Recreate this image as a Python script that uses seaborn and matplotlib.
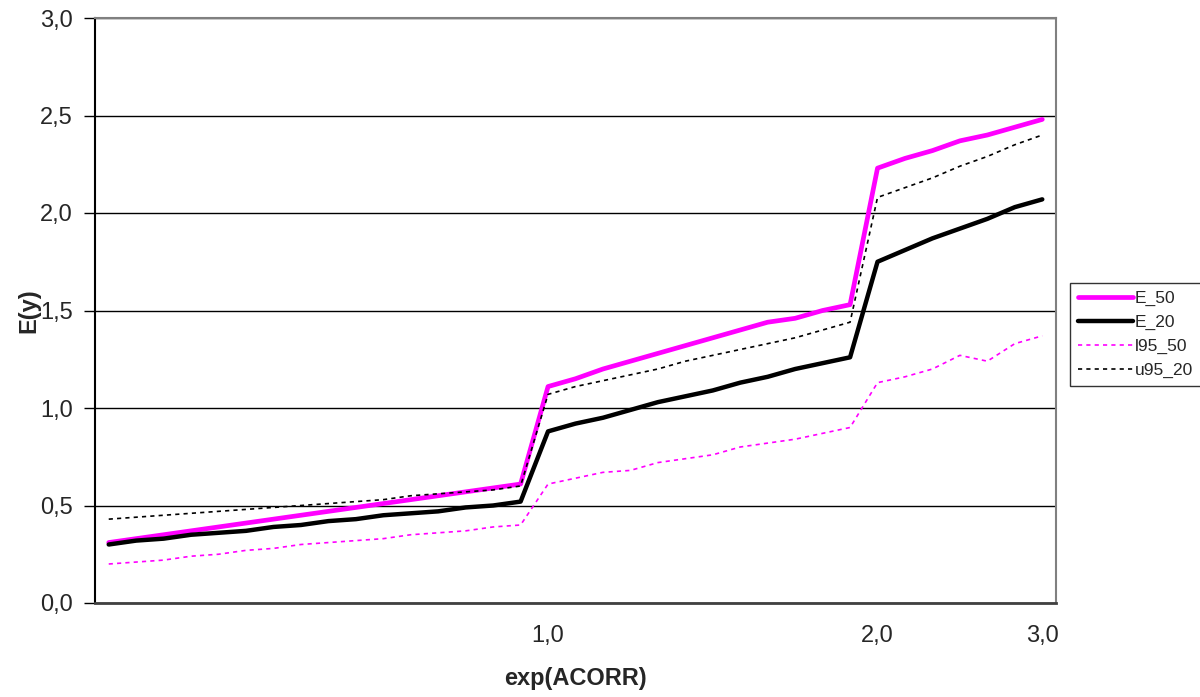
import matplotlib
matplotlib.use("Agg")
import matplotlib.pyplot as plt
import seaborn as sns
import pandas as pd

# category index along the x axis (35 points), only three carry a label
x_idx = list(range(35))
x_tick_pos = [16, 28, 34]
x_tick_labels = ["1,0", "2,0", "3,0"]

E_50 = [0.31, 0.33, 0.35, 0.37, 0.39, 0.41, 0.43, 0.45, 0.47, 0.49, 0.51, 0.53,
        0.55, 0.57, 0.59, 0.61,
        1.11, 1.15, 1.20, 1.24, 1.28, 1.32, 1.36, 1.40, 1.44, 1.46, 1.50, 1.53,
        2.23, 2.28, 2.32, 2.37, 2.40, 2.44, 2.48]
E_20 = [0.30, 0.32, 0.33, 0.35, 0.36, 0.37, 0.39, 0.40, 0.42, 0.43, 0.45, 0.46,
        0.47, 0.49, 0.50, 0.52,
        0.88, 0.92, 0.95, 0.99, 1.03, 1.06, 1.09, 1.13, 1.16, 1.20, 1.23, 1.26,
        1.75, 1.81, 1.87, 1.92, 1.97, 2.03, 2.07]
l95_50 = [0.20, 0.21, 0.22, 0.24, 0.25, 0.27, 0.28, 0.30, 0.31, 0.32, 0.33, 0.35,
          0.36, 0.37, 0.39, 0.40,
          0.61, 0.64, 0.67, 0.68, 0.72, 0.74, 0.76, 0.80, 0.82, 0.84, 0.87, 0.90,
          1.13, 1.16, 1.20, 1.27, 1.24, 1.33, 1.37]
u95_20 = [0.43, 0.44, 0.45, 0.46, 0.47, 0.48, 0.49, 0.50, 0.51, 0.52, 0.53, 0.55,
          0.56, 0.57, 0.58, 0.60,
          1.07, 1.11, 1.14, 1.17, 1.20, 1.24, 1.27, 1.30, 1.33, 1.36, 1.40, 1.44,
          2.08, 2.13, 2.18, 2.24, 2.29, 2.35, 2.40]

series = [
    ("E_50", E_50, "#FF00FF", 3.4, "-"),
    ("E_20", E_20, "black", 3.2, "-"),
    ("l95_50", l95_50, "#FF00FF", 1.2, (0, (2.5, 2.5))),
    ("u95_20", u95_20, "black", 1.2, (0, (2.5, 2.5))),
]

sns.set_style("white")
plt.rcParams["font.family"] = ["Liberation Sans", "DejaVu Sans"]

fig = plt.figure(figsize=(12, 6.97), dpi=100)
ax = fig.add_axes([95 / 1200, 1 - 603 / 697, (1056 - 95) / 1200, (603 - 18) / 697])

for name, vals, col, lw, ls in series:
    df = pd.DataFrame({"x": x_idx, "y": vals})
    sns.lineplot(data=df, x="x", y="y", ax=ax, color=col, linewidth=lw,
                 linestyle=ls, label=name)

ax.set_xlim(-0.5, 34.5)
ax.set_ylim(0, 3.0)
yt = [0.0, 0.5, 1.0, 1.5, 2.0, 2.5, 3.0]
ax.set_yticks(yt)
ax.set_yticklabels([f"{v:.1f}".replace(".", ",") for v in yt], fontsize=17)
ax.set_xticks(x_tick_pos)
ax.set_xticklabels(x_tick_labels, fontsize=17)
ax.tick_params(axis="x", length=0, pad=16)
ax.tick_params(axis="y", direction="out", length=8, width=1, color="black", pad=8,
               left=True)
ax.yaxis.grid(True, color="black", linewidth=1)
ax.xaxis.grid(False)
ax.set_axisbelow(True)

for side in ["top", "right"]:
    ax.spines[side].set_color("#808080")
    ax.spines[side].set_linewidth(1.5)
ax.spines["left"].set_color("black")
ax.spines["left"].set_linewidth(1.5)
ax.spines["bottom"].set_color("#404040")
ax.spines["bottom"].set_linewidth(2)

ax.set_xlabel("exp(ACORR)", fontsize=17, fontweight="bold", labelpad=14)
ax.set_ylabel("E(y)", fontsize=17, fontweight="bold", labelpad=0)

leg = ax.legend(loc="upper left", bbox_to_anchor=(1070 / 1200, 1 - 283 / 697),
                bbox_transform=fig.transFigure, frameon=True, fancybox=False,
                fontsize=12.5, handlelength=3.2, handletextpad=0.1,
                borderpad=0.45, labelspacing=0.5, borderaxespad=0)
leg.get_frame().set_edgecolor("black")
leg.get_frame().set_linewidth(1)

fig.savefig("out.png", dpi=100)
